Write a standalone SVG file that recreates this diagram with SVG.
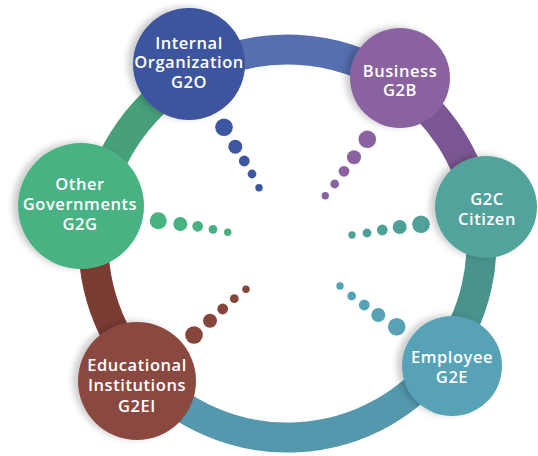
<svg xmlns="http://www.w3.org/2000/svg" width="538" height="456" viewBox="0 0 538 456">
<defs>
<filter id="sh" x="-30%" y="-30%" width="160%" height="160%">
<feDropShadow dx="-5" dy="-1" stdDeviation="3" flood-color="#000" flood-opacity="0.2"/>
</filter>
<style>
.seg{fill:none;stroke-width:30;stroke-linecap:butt}
.lbl{font-family:"Open Sans","Liberation Sans",sans-serif;font-weight:600;font-size:16.5px;letter-spacing:0.55px;fill:#fff;text-anchor:middle}
.node circle.main{filter:url(#sh)}
</style>
</defs>
<rect width="538" height="456" fill="#fff"/>
<g id="connectors">
<path class="seg" stroke="#556fb0" d="M194.0,73.5 A194,194 0 0 1 396.5,83.0"/>
<path class="seg" stroke="#7a5792" d="M396.5,83.0 A194,194 0 0 1 478.3,208.5"/>
<path class="seg" stroke="#49938d" d="M478.3,208.5 A194,194 0 0 1 443.1,359.4"/>
<path class="seg" stroke="#5598ae" d="M443.1,359.4 A194,194 0 0 1 144.2,374.3"/>
<path class="seg" stroke="#7b3c34" d="M144.2,374.3 A194,194 0 0 1 96.6,208.8"/>
<path class="seg" stroke="#47a079" d="M96.6,208.8 A194,194 0 0 1 194.0,73.5"/>
</g>
<g id="dots">
<g fill="#3d56a0"><circle cx="224" cy="127.3" r="8.8"/><circle cx="235.3" cy="146.7" r="7"/><circle cx="244.3" cy="161" r="5.4"/><circle cx="252" cy="174" r="4.4"/><circle cx="259" cy="187.7" r="3.7"/></g>
<g fill="#8a62a0"><circle cx="367.3" cy="139.3" r="8.8"/><circle cx="354" cy="157.3" r="7"/><circle cx="344" cy="171.3" r="5.4"/><circle cx="334.7" cy="184" r="4.4"/><circle cx="325.3" cy="195.7" r="3.7"/></g>
<g fill="#48b283"><circle cx="158.3" cy="220.7" r="8.5"/><circle cx="180.3" cy="224" r="7"/><circle cx="197.7" cy="226.3" r="5.4"/><circle cx="213" cy="229.3" r="4.4"/><circle cx="227.7" cy="232.3" r="3.7"/></g>
<g fill="#4fa098"><circle cx="421" cy="224.3" r="8.8"/><circle cx="399.7" cy="227" r="7"/><circle cx="382.3" cy="230" r="5.4"/><circle cx="367" cy="233" r="4.4"/><circle cx="352" cy="235" r="3.7"/></g>
<g fill="#86463c"><circle cx="194" cy="335" r="8.8"/><circle cx="210" cy="320.7" r="7"/><circle cx="222.7" cy="309" r="5.4"/><circle cx="234.3" cy="298.7" r="4.4"/><circle cx="246" cy="289.3" r="3.7"/></g>
<g fill="#58a2b8"><circle cx="396.7" cy="326.7" r="8.8"/><circle cx="378.3" cy="315" r="7"/><circle cx="364.3" cy="305" r="5.4"/><circle cx="351.7" cy="296" r="4.4"/><circle cx="340" cy="286" r="3.7"/></g>
</g>
<g id="node-g2o" class="node">
<circle class="main" cx="189" cy="64" r="56" fill="#3c559e"/>
<text class="lbl" x="189" y="48.5">Internal</text>
<text class="lbl" x="189" y="68">Organization</text>
<text class="lbl" x="189" y="87.5">G2O</text>
</g>
<g id="node-g2b" class="node">
<circle class="main" cx="400" cy="78" r="50" fill="#8a62a0"/>
<text class="lbl" x="400" y="76.5">Business</text>
<text class="lbl" x="400" y="96">G2B</text>
</g>
<g id="node-g2c" class="node">
<circle class="main" cx="486" cy="207" r="51" fill="#51a39b"/>
<text class="lbl" x="487" y="205">G2C</text>
<text class="lbl" x="487" y="224.5">Citizen</text>
</g>
<g id="node-g2e" class="node">
<circle class="main" cx="452" cy="366" r="50" fill="#58a2b8"/>
<text class="lbl" x="452" y="363">Employee</text>
<text class="lbl" x="452" y="382.5">G2E</text>
</g>
<g id="node-g2ei" class="node">
<circle class="main" cx="137" cy="381" r="59" fill="#8a4a40"/>
<text class="lbl" x="137" y="371">Educational</text>
<text class="lbl" x="137" y="391">Institutions</text>
<text class="lbl" x="137" y="411.5">G2EI</text>
</g>
<g id="node-g2g" class="node">
<circle class="main" cx="81" cy="206" r="63" fill="#48b283"/>
<text class="lbl" x="80" y="190">Other</text>
<text class="lbl" x="80" y="210">Governments</text>
<text class="lbl" x="80" y="230">G2G</text>
</g>
</svg>
